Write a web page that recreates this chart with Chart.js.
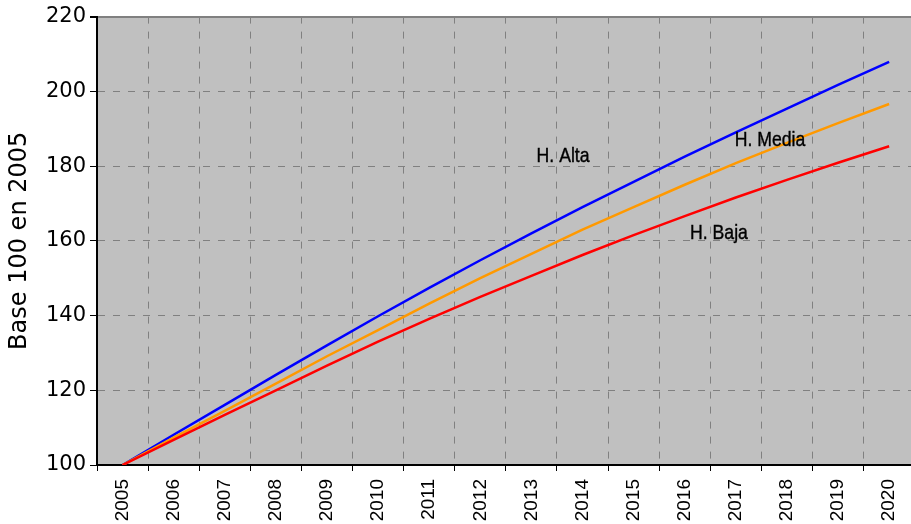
<!DOCTYPE html>
<html>
<head>
<meta charset="utf-8">
<script src="https://cdn.jsdelivr.net/npm/chart.js@4.4.1/dist/chart.umd.min.js"></script>
<style>
	html, body { margin: 0; padding: 0; background: #fff; overflow: hidden; }
	#wrap { width: 911px; height: 524px; overflow: hidden; }
</style>
</head>
<body>
<div id="wrap"><canvas id="line-chartcanvas" width="920" height="524"></canvas></div>
<script>
var years = ["2005", "2006", "2007", "2008", "2009", "2010", "2011", "2012", "2013", "2014", "2015", "2016", "2017", "2018", "2019", "2020"];
var hAlta = [100, 108.1, 116.1, 124.1, 132.0, 139.8, 147.4, 154.8, 162.0, 169.0, 175.8, 182.5, 189.0, 195.4, 201.7, 207.9];
var hMedia = [100, 107.3, 114.5, 121.8, 129.1, 136.1, 143.2, 150.0, 156.5, 163.0, 169.0, 175.0, 180.8, 186.2, 191.5, 196.6];
var hBaja = [100, 106.7, 113.4, 120.0, 126.6, 133.0, 139.1, 145.0, 150.6, 156.2, 161.5, 166.6, 171.6, 176.3, 180.9, 185.3];
var seriesNames = ["H. Alta", "H. Media", "H. Baja"];
var yTicks = [100, 120, 140, 160, 180, 200, 220];
var yTitle = "Base 100 en 2005";

// gray plot background
var plotBg = {
	id: "plotBg",
	beforeDraw: function (chart) {
		var a = chart.chartArea;
		var c = chart.ctx;
		c.save();
		c.fillStyle = "#C0C0C0";
		c.fillRect(a.left, a.top, a.right - a.left, a.bottom - a.top);
		c.restore();
	}
};

// series names written inside the plot (narrow lettering)
var seriesLabels = {
	id: "seriesLabels",
	afterDatasetsDraw: function (chart) {
		var x = chart.scales.x;
		var y = chart.scales.y;
		var spots = [[8.62, 182.6], [12.67, 186.9], [11.67, 162.1]];
		var c = chart.ctx;
		for (var i = 0; i < seriesNames.length; i++) {
			c.save();
			c.translate(x.getPixelForValue(spots[i][0]), y.getPixelForValue(spots[i][1]));
			c.scale(0.84, 1);
			c.font = "21px 'Liberation Sans', Arial, sans-serif";
			c.fillStyle = "#000";
			c.textAlign = "center";
			c.textBaseline = "middle";
			c.fillText(seriesNames[i], 0, 0);
			c.strokeStyle = "#000";
			c.lineWidth = 0.4;
			c.strokeText(seriesNames[i], 0, 0);
			c.restore();
		}
	}
};

var ctx = document.getElementById("line-chartcanvas");

var data = {
	labels: years,
	datasets: [
		{ label: seriesNames[0], data: hAlta, borderColor: "#0000FF", order: 3 },
		{ label: seriesNames[1], data: hMedia, borderColor: "#FF9900", order: 2 },
		{ label: seriesNames[2], data: hBaja, borderColor: "#FF0000", order: 1 }
	]
};
data.datasets.forEach(function (d) {
	d.borderWidth = 2.5;
	d.pointRadius = 0;
	d.fill = false;
	d.tension = 0;
});

var options = {
	responsive: false,
	animation: false,
	layout: { padding: { top: 15, right: 2, left: 0, bottom: 0 } },
	plugins: {
		legend: { display: false },
		tooltip: { enabled: false }
	},
	scales: {
		x: {
			type: "category",
			offset: true,
			afterFit: function (s) { s.height = 59; },
			grid: {
				offset: true,
				color: "#808080",
				lineWidth: 1,
				tickLength: 6,
				tickColor: "#000"
			},
			border: { display: true, color: "#000", width: 2, dash: [7, 8] },
			ticks: {
				autoSkip: false,
				minRotation: 90,
				maxRotation: 90,
				padding: 8,
				color: "#000",
				font: { family: "'Liberation Sans', Arial, sans-serif", size: 19 }
			}
		},
		y: {
			min: 100,
			max: 220,
			afterFit: function (s) { s.width = 97; },
			afterBuildTicks: function (s) {
				s.ticks = yTicks.map(function (v) { return { value: v }; });
			},
			title: {
				display: true,
				text: yTitle,
				color: "#000",
				padding: { top: 5, bottom: 0 },
				font: { family: "'DejaVu Sans', sans-serif", size: 24 }
			},
			grid: {
				color: "#808080",
				lineWidth: function (c) { return c.tick && c.tick.value === 220 ? 2 : 1; },
				tickLength: 7,
				tickColor: "#000"
			},
			border: {
				display: true,
				color: "#000",
				width: 2,
				dash: function (c) { return c.tick && c.tick.value === 220 ? [] : [7, 8]; }
			},
			ticks: {
				padding: 4,
				color: "#000",
				font: { family: "'DejaVu Sans', sans-serif", size: 21 }
			}
		}
	}
};

var chart = new Chart(ctx, {
	type: "line",
	data: data,
	options: options,
	plugins: [plotBg, seriesLabels]
});
</script>
</body>
</html>
